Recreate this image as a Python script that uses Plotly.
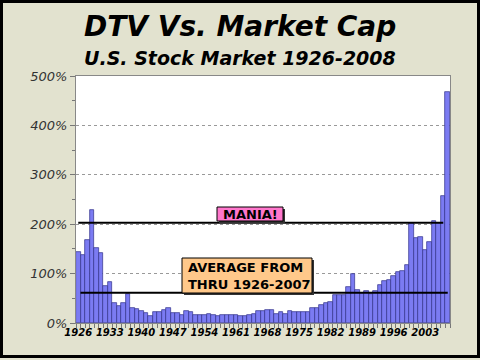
import plotly.graph_objects as go

years = list(range(1926, 2009))
dtv_pct = [143, 137, 169, 229, 151, 141, 74, 82, 40, 34,
           41, 59, 31, 28, 24, 21, 14, 22, 22, 26,
           30, 20, 21, 16, 24, 22, 16, 16, 17, 18,
           17, 15, 17, 17, 16, 17, 15, 15, 16, 19,
           25, 25, 26, 26, 19, 22, 19, 24, 23, 22,
           22, 23, 30, 31, 36, 40, 43, 57, 57, 57,
           72, 100, 66, 61, 65, 59, 65, 77, 85, 87,
           96, 103, 105, 117, 203, 173, 175, 148, 163, 206,
           203, 258, 468]
average_pct = 61
mania_pct = 203
x_tick_labels = [str(y) for y in range(1926, 2009, 7)]
y_tick_vals = [0, 100, 200, 300, 400, 500]
y_tick_labels = [f"{v}%" for v in y_tick_vals]

# plot area geometry in px
L, R, T, B = 76, 450, 76, 323
W, H = R - L, B - T

def px(X):
    return (X - L) / W

def py(Y):
    return (B - Y) / H

fig = go.Figure()
fig.add_trace(go.Bar(
    x=years, y=dtv_pct, width=1.0,
    marker=dict(color="#7B7BF2", line=dict(color="#30308A", width=0.7)),
    hoverinfo="skip",
))

paper_bg = "#E2E2CF"
fig.update_layout(
    width=480, height=360,
    margin=dict(l=L, r=480 - R, t=T, b=360 - B, autoexpand=False),
    paper_bgcolor=paper_bg, plot_bgcolor="white",
    showlegend=False, bargap=0,
    font=dict(family="DejaVu Sans"),
)
fig.update_xaxes(
    automargin=False,
    range=[1925.5, 2008.5],
    tickvals=[int(t) for t in x_tick_labels], ticktext=x_tick_labels,
    ticks="", showgrid=False, zeroline=False,
    showline=True, linecolor="#888888", linewidth=1, mirror=True,
    tickfont=dict(size=10, color="black", family="DejaVu Sans", weight="bold", style="italic"),
    minor=dict(tick0=1925.5, dtick=1, ticks="outside", ticklen=4, tickcolor="#777777", showgrid=False),
)
fig.update_yaxes(
    automargin=False,
    range=[0, 500], tickvals=y_tick_vals, ticktext=y_tick_labels,
    ticks="outside", ticklen=5, tickcolor="#777777",
    showgrid=True, gridcolor="#999999", griddash="dot", gridwidth=1,
    zeroline=False,
    showline=True, linecolor="#888888", linewidth=1, mirror=True,
    tickfont=dict(size=13, color="#333333", family="DejaVu Sans", style="italic"),
    minor=dict(tick0=50, dtick=100, ticks="outside", ticklen=3, tickcolor="#777777", showgrid=False),
)

# horizontal reference lines
fig.add_shape(type="line", xref="x", yref="y", x0=1926, x1=2007, y0=mania_pct, y1=mania_pct,
              line=dict(color="black", width=2))
fig.add_shape(type="line", xref="x", yref="y", x0=1926.5, x1=2008, y0=average_pct, y1=average_pct,
              line=dict(color="black", width=2))

# boxes with shadows
def box(X0, Y0, X1, Y1, fill):
    fig.add_shape(type="rect", xref="paper", yref="paper",
                  x0=px(X0 + 2), x1=px(X1 + 2), y0=py(Y1 + 2), y1=py(Y0 + 2),
                  fillcolor="#333333", line=dict(width=0), layer="above")
    fig.add_shape(type="rect", xref="paper", yref="paper",
                  x0=px(X0), x1=px(X1), y0=py(Y1), y1=py(Y0),
                  fillcolor=fill, line=dict(color="black", width=1), layer="above")

box(217, 207, 283, 221, "#FF77CC")
box(182, 258, 312, 293, "#FFC88A")

fig.add_annotation(xref="paper", yref="paper", x=px(250), y=py(214.5), text="<b>MANIA!</b>",
                   showarrow=False, font=dict(size=13, color="black"), xanchor="center", yanchor="middle")
fig.add_annotation(xref="paper", yref="paper", x=px(186), y=py(275.5),
                   text="<b>AVERAGE FROM<br>THRU 1926-2007</b>", align="left",
                   showarrow=False, font=dict(size=13, color="black"), xanchor="left", yanchor="middle")

# titles
fig.add_annotation(xref="paper", yref="paper", x=px(240), y=py(26), text="<b><i>DTV Vs. Market Cap</i></b>",
                   showarrow=False, font=dict(size=28, color="black"), xanchor="center", yanchor="middle")
fig.add_annotation(xref="paper", yref="paper", x=px(240), y=py(58), text="<b><i>U.S. Stock Market 1926-2008</i></b>",
                   showarrow=False, font=dict(size=19, color="black"), xanchor="center", yanchor="middle")

# outer frame
fig.add_shape(type="rect", xref="paper", yref="paper",
              x0=px(1.5), x1=px(478.5), y0=py(356.5), y1=py(1.5),
              line=dict(color="black", width=3), fillcolor="rgba(0,0,0,0)", layer="above")

fig.write_html("out.html", config={"displayModeBar": False},
               post_script="document.body.style.margin='0px';")
